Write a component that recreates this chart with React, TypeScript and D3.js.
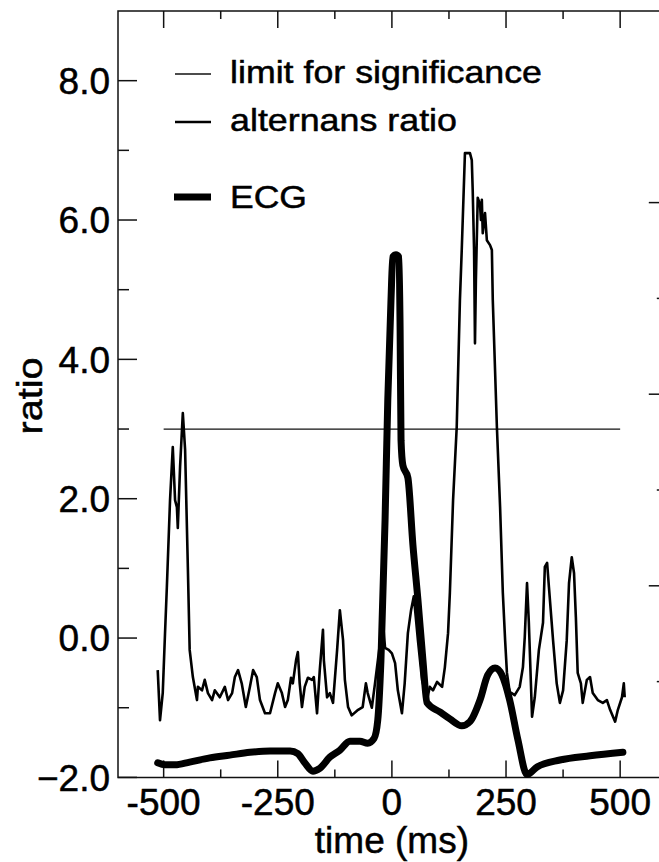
import React from 'react';
import * as d3 from 'd3';

// ---- data ----
const altTime = [-513,-508,-502,-497,-493,-486,-480,-475,-471,-469,-464,-458,-453,-447,-443,-436,-427,-425,-416,-410,-403,-394,-388,-377,-366,-359,-350,-344,-337,-329,-320,-311,-304,-296,-289,-278,-267,-256,-250,-241,-234,-228,-221,-217,-210,-206,-202,-197,-191,-184,-175,-171,-164,-158,-151,-149,-142,-136,-129,-120,-114,-107,-103,-96,-88,-74,-64,-57,-53,-44,-37,-26,-20,-15,-7,0,7,13,22,28,35,42,48,57,66,77,83,90,99,110,116,123,127,134,142,149,153,160,171,175,177,180,182,184,188,193,195,197,199,204,208,215,219,221,230,237,243,248,252,258,269,280,287,291,296,300,307,313,322,331,335,340,344,353,361,368,375,383,388,394,399,403,407,414,418,427,434,440,451,462,471,478,489,495,504,508,510];
const altRatio = [-0.46,-1.18,-0.79,0.07,0.73,1.98,2.74,1.98,1.88,1.58,2.46,3.23,2.70,1.02,-0.17,-0.56,-0.89,-0.70,-0.75,-0.60,-0.79,-0.89,-0.75,-0.85,-0.70,-0.89,-0.79,-0.56,-0.46,-0.65,-0.99,-0.70,-0.46,-0.56,-0.89,-1.08,-1.08,-0.79,-0.65,-0.79,-0.99,-0.89,-0.57,-0.65,-0.32,-0.20,-0.65,-0.99,-0.70,-0.57,-0.60,-0.56,-1.08,-0.46,0.12,-0.32,-0.85,-0.79,-0.93,-0.17,0.40,-0.03,-0.60,-0.99,-1.11,-1.03,-0.99,-0.65,-0.79,-1.00,-0.65,-0.07,0.26,-0.14,-0.17,-0.22,-0.36,-0.75,-1.08,-0.65,0.07,0.40,0.60,-0.03,-0.60,-0.89,-0.70,-0.75,-0.63,-0.70,-0.42,0.07,0.65,1.98,3.03,4.85,5.57,6.96,6.96,6.86,6.43,5.57,4.23,5.14,6.32,6.22,6.00,6.29,5.81,6.10,5.71,5.64,5.57,4.85,3.03,1.88,0.65,-0.03,-0.50,-0.77,-0.82,-0.70,-0.42,0.01,0.79,0.22,-1.13,-0.85,-0.17,0.22,1.02,1.08,0.73,-0.03,-0.65,-0.93,-0.75,-0.03,0.79,1.16,0.93,0.30,-0.50,-0.65,-0.93,-0.60,-0.56,-0.79,-0.89,-0.93,-0.89,-1.03,-1.20,-1.03,-0.85,-0.65,-0.85];

const ecgTime = [-513,-497,-475,-443,-399,-355,-311,-267,-223,-206,-191,-173,-158,-136,-114,-92,-70,-53,-39,-31,-24,-15,-9,-2,2,9,15,18,20,24,35,46,57,68,77,105,127,153,171,193,210,226,241,258,276,296,318,368,434,506];
const ecgValue = [-1.79,-1.82,-1.82,-1.78,-1.72,-1.68,-1.64,-1.62,-1.62,-1.66,-1.79,-1.91,-1.87,-1.71,-1.61,-1.48,-1.48,-1.51,-1.44,-1.18,-0.32,1.69,3.42,4.85,5.47,5.50,5.47,4.42,2.84,2.48,2.30,1.34,0.55,-0.32,-0.93,-1.06,-1.16,-1.26,-1.20,-0.89,-0.53,-0.43,-0.53,-0.89,-1.46,-1.96,-1.85,-1.75,-1.69,-1.64];

const limitTime = [-500, 500];
const limitValue = [3.0, 3.0];

const timeMajor = [-500, -250, 0, 250, 500];
const timeMinor = [-375, -125, 125, 375];
const ratioMajor = [-2, 0, 2, 4, 6, 8];
const ratioMinor = [-1, 1, 3, 5, 7];
const rightTicks = [1, 2, 3, 4, 5, 6];

const legendLabels = ['limit for significance', 'alternans ratio', 'ECG'];

const FONT = '"Liberation Sans", Arial, Helvetica, sans-serif';

export default function App() {
  const W = 659, H = 862;
  const x = d3.scaleLinear().domain([-600, 600]).range([118, 665.8]);
  const y = d3.scaleLinear().domain([-2, 9]).range([777.4, 11]);
  const yr = d3.scaleLinear().domain([0, 8]).range([777.4, 11]);
  const L = x.range()[0], R = x.range()[1], B = y.range()[0], T = y.range()[1];

  const altPts: [number, number][] = altTime.map((t, i) => [t, altRatio[i]]);
  const ecgPts: [number, number][] = ecgTime.map((t, i) => [t, ecgValue[i]]);
  const limPts: [number, number][] = limitTime.map((t, i) => [t, limitValue[i]]);

  const lineLin = d3.line<[number, number]>().x(d => x(d[0])).y(d => y(d[1]));
  const lineSmooth = d3.line<[number, number]>().x(d => x(d[0])).y(d => y(d[1])).curve(d3.curveMonotoneX);

  const fmt = d3.format('.1f');
  const txt = { fontFamily: FONT, fill: '#000', stroke: '#000', strokeWidth: 0.5 } as const;

  return (
    <svg width={W} height={H} style={{ position: 'absolute', left: 0, top: 0, background: '#fff' }}>
      <rect x={0} y={0} width={W} height={H} fill="#fff" />
      {/* frame */}
      <path d={`M${R},${T}H${L}V${B}H${R}V${T}`} fill="none" stroke="#111" strokeWidth={1.5} />
      {/* left ticks */}
      {ratioMajor.map(v => <line key={'lm' + v} x1={L} x2={L + 19} y1={y(v)} y2={y(v)} stroke="#111" strokeWidth={1.5} />)}
      {ratioMinor.map(v => <line key={'ln' + v} x1={L} x2={L + 11} y1={y(v)} y2={y(v)} stroke="#111" strokeWidth={1.5} />)}
      {/* right ticks */}
      {rightTicks.map(v => <line key={'r' + v} x1={R} x2={R - (v % 2 === 0 ? 17 : 9)} y1={yr(v)} y2={yr(v)} stroke="#111" strokeWidth={1.5} />)}
      {/* bottom & top ticks */}
      {timeMajor.map(t => <line key={'bm' + t} x1={x(t)} x2={x(t)} y1={B} y2={B - 17} stroke="#111" strokeWidth={1.5} />)}
      {timeMinor.map(t => <line key={'bn' + t} x1={x(t)} x2={x(t)} y1={B} y2={B - 8} stroke="#111" strokeWidth={1.5} />)}
      {timeMajor.map(t => <line key={'tm' + t} x1={x(t)} x2={x(t)} y1={T} y2={T + 17} stroke="#111" strokeWidth={1.5} />)}
      {timeMinor.map(t => <line key={'tn' + t} x1={x(t)} x2={x(t)} y1={T} y2={T + 8} stroke="#111" strokeWidth={1.5} />)}
      {/* tick labels */}
      {ratioMajor.map(v => (
        <text key={'yl' + v} x={110} y={y(v)} dy="0.36em" textAnchor="end" fontSize={37} {...txt}>{fmt(v)}</text>
      ))}
      {timeMajor.map(t => (
        <text key={'xl' + t} x={x(t)} y={815} textAnchor="middle" fontSize={37} {...txt}>{String(t)}</text>
      ))}
      {/* axis titles */}
      <text x={x(0)} y={853} textAnchor="middle" fontSize={37} {...txt}>time (ms)</text>
      <text transform={`translate(42,${396}) rotate(-90)`} textAnchor="middle" fontSize={35} textLength={77} lengthAdjust="spacingAndGlyphs" {...txt}>ratio</text>

      {/* data */}
      <path d={lineLin(limPts) || ''} fill="none" stroke="#111" strokeWidth={1.3} />
      <path d={lineLin(altPts) || ''} fill="none" stroke="#000" strokeWidth={2.6} strokeLinejoin="round" />
      <path d={lineSmooth(ecgPts) || ''} fill="none" stroke="#000" strokeWidth={7} strokeLinejoin="round" strokeLinecap="round" />

      {/* legend */}
      <line x1={175} x2={211} y1={74} y2={74} stroke="#111" strokeWidth={1.3} />
      <text x={230} y={83} fontSize={32} textLength={312} lengthAdjust="spacingAndGlyphs" {...txt}>{legendLabels[0]}</text>
      <line x1={175} x2={211} y1={122} y2={122} stroke="#000" strokeWidth={2.6} />
      <text x={230} y={131} fontSize={32} textLength={227} lengthAdjust="spacingAndGlyphs" {...txt}>{legendLabels[1]}</text>
      <line x1={174} x2={211} y1={197} y2={197} stroke="#000" strokeWidth={7} />
      <text x={230} y={208} fontSize={32} textLength={77} lengthAdjust="spacingAndGlyphs" {...txt}>{legendLabels[2]}</text>
    </svg>
  );
}
